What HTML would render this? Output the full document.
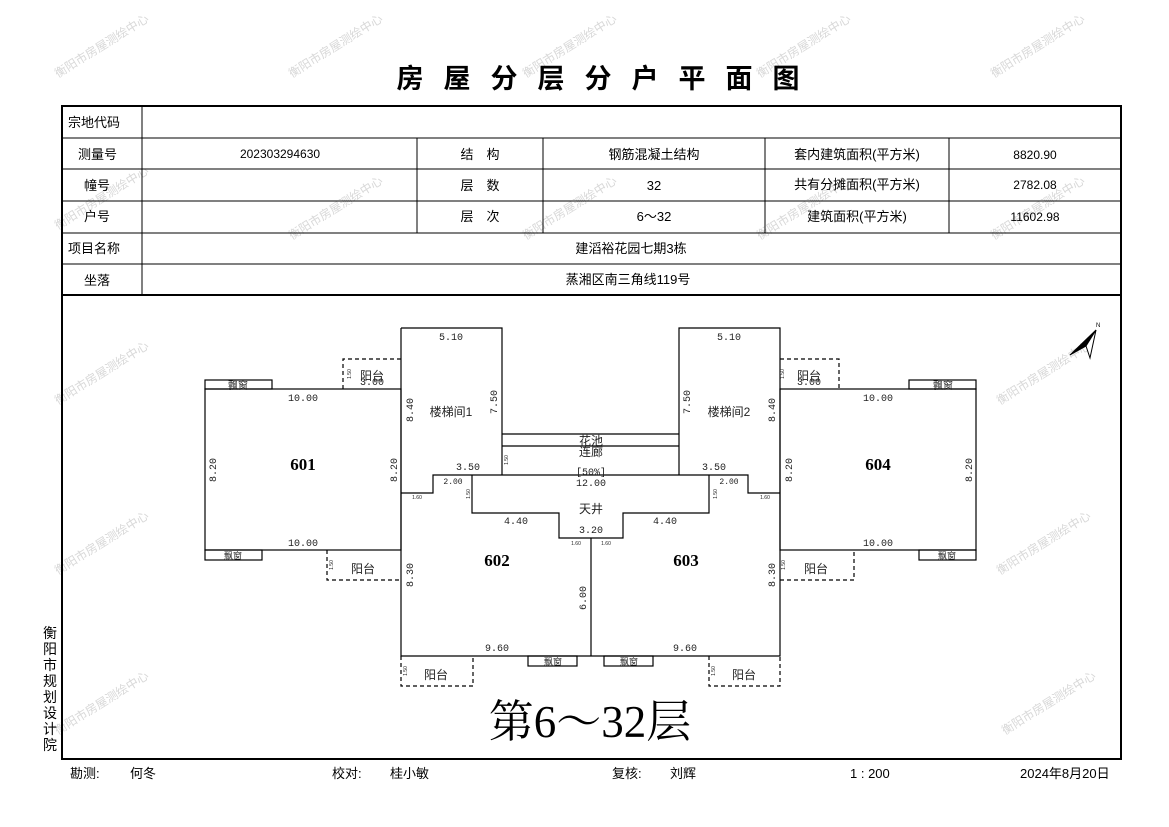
<!DOCTYPE html>
<html><head><meta charset="utf-8"><style>
html,body{margin:0;padding:0;background:#fff;}
svg{display:block;}
.t{font-family:"Liberation Sans","Noto Sans CJK SC",sans-serif;font-size:13px;fill:#000;}
.d{font-family:"Liberation Mono","Noto Sans CJK SC",monospace;font-size:10px;fill:#222;}
.s{font-family:"Liberation Sans",sans-serif;font-size:5px;fill:#222;}
.c{font-family:"Liberation Sans","Noto Sans CJK SC",sans-serif;font-size:12px;fill:#222;}
.n{font-family:"Liberation Serif","Noto Serif CJK SC",serif;font-size:17px;font-weight:bold;fill:#000;}
.w{font-family:"Liberation Sans","Noto Sans CJK SC",sans-serif;font-size:12px;fill:#d8d8d8;}
</style></head><body>
<svg width="1169" height="827" viewBox="0 0 1169 827" xmlns="http://www.w3.org/2000/svg">
<g class="w">
<text transform="translate(58,78) rotate(-32)">衡阳市房屋测绘中心</text>
<text transform="translate(292,78) rotate(-32)">衡阳市房屋测绘中心</text>
<text transform="translate(526,78) rotate(-32)">衡阳市房屋测绘中心</text>
<text transform="translate(760,78) rotate(-32)">衡阳市房屋测绘中心</text>
<text transform="translate(994,78) rotate(-32)">衡阳市房屋测绘中心</text>
<text transform="translate(58,230) rotate(-32)">衡阳市房屋测绘中心</text>
<text transform="translate(292,240) rotate(-32)">衡阳市房屋测绘中心</text>
<text transform="translate(526,240) rotate(-32)">衡阳市房屋测绘中心</text>
<text transform="translate(760,240) rotate(-32)">衡阳市房屋测绘中心</text>
<text transform="translate(994,240) rotate(-32)">衡阳市房屋测绘中心</text>
<text transform="translate(58,405) rotate(-32)">衡阳市房屋测绘中心</text>
<text transform="translate(1000,405) rotate(-32)">衡阳市房屋测绘中心</text>
<text transform="translate(58,575) rotate(-32)">衡阳市房屋测绘中心</text>
<text transform="translate(1000,575) rotate(-32)">衡阳市房屋测绘中心</text>
<text transform="translate(58,735) rotate(-32)">衡阳市房屋测绘中心</text>
<text transform="translate(1005,735) rotate(-32)">衡阳市房屋测绘中心</text>
</g>
<text x="608" y="88" text-anchor="middle" style="font-family:'Liberation Sans','Noto Sans CJK SC',sans-serif;font-size:27px;font-weight:bold;letter-spacing:20px">房屋分层分户平面图</text>
<rect x="62" y="106" width="1059" height="653" fill="none" stroke="#000" stroke-width="2"/>
<g stroke="#000" stroke-width="1">
<line x1="62" y1="138" x2="1121" y2="138"/>
<line x1="62" y1="169" x2="1121" y2="169"/>
<line x1="62" y1="201" x2="1121" y2="201"/>
<line x1="62" y1="233" x2="1121" y2="233"/>
<line x1="62" y1="264" x2="1121" y2="264"/>
<line x1="62" y1="295" x2="1121" y2="295" stroke-width="2"/>
<line x1="142" y1="106" x2="142" y2="295"/>
<line x1="417" y1="138" x2="417" y2="233"/>
<line x1="543" y1="138" x2="543" y2="233"/>
<line x1="765" y1="138" x2="765" y2="233"/>
<line x1="949" y1="138" x2="949" y2="233"/>
</g>
<g class="t">
<text x="68" y="127">宗地代码</text>
<text x="78" y="159">测量号</text>
<text x="84" y="190">幢号</text>
<text x="84" y="221">户号</text>
<text x="68" y="253">项目名称</text>
<text x="84" y="285">坐落</text>
<text x="280" y="158" text-anchor="middle" style="font-size:12px">202303294630</text>
<text x="480" y="159" text-anchor="middle">结　构</text>
<text x="480" y="190" text-anchor="middle">层　数</text>
<text x="480" y="221" text-anchor="middle">层　次</text>
<text x="654" y="159" text-anchor="middle">钢筋混凝土结构</text>
<text x="654" y="190" text-anchor="middle">32</text>
<text x="654" y="221" text-anchor="middle">6～32</text>
<text x="857" y="159" text-anchor="middle">套内建筑面积(平方米)</text>
<text x="857" y="189" text-anchor="middle">共有分摊面积(平方米)</text>
<text x="857" y="221" text-anchor="middle">建筑面积(平方米)</text>
<text x="1035" y="159" text-anchor="middle" style="font-size:12px">8820.90</text>
<text x="1035" y="189" text-anchor="middle" style="font-size:12px">2782.08</text>
<text x="1035" y="221" text-anchor="middle" style="font-size:12px">11602.98</text>
<text x="631" y="253" text-anchor="middle">建滔裕花园七期3栋</text>
<text x="628" y="284" text-anchor="middle">蒸湘区南三角线119号</text>
</g>
<g fill="none" stroke="#000" stroke-width="1.2">
<rect x="205" y="389" width="196" height="161"/>
<rect x="780" y="389" width="196" height="161"/>
<path d="M401,328 V656 H780 V328 H679 V475"/>
<path d="M401,328 H502 V475"/>
<path d="M502,434 H679 M502,446 H679"/>
<path d="M401,493 H433 V475 H748 V493 H780"/>
<path d="M472,475 V513 H559 V538 H623 V513 H709 V475"/>
<path d="M591,538 V656"/>
<rect x="205" y="380" width="67" height="9"/>
<rect x="205" y="550" width="57" height="10"/>
<rect x="909" y="380" width="67" height="9"/>
<rect x="919" y="550" width="57" height="10"/>
<rect x="528" y="656" width="49" height="10"/>
<rect x="604" y="656" width="49" height="10"/>
</g>
<g fill="none" stroke="#000" stroke-width="1.2" stroke-dasharray="4,3">
<path d="M343,389 V359 H401"/>
<path d="M327,550 V580 H401"/>
<path d="M780,359 H839 V389"/>
<path d="M780,580 H854 V550"/>
<path d="M401,656 V686 H473 V656"/>
<path d="M709,656 V686 H780 V656"/>
</g>
<g class="n">
<text x="303" y="470" text-anchor="middle">601</text>
<text x="497" y="566" text-anchor="middle">602</text>
<text x="686" y="566" text-anchor="middle">603</text>
<text x="878" y="470" text-anchor="middle">604</text>
</g>
<g class="d" text-anchor="middle">
<text x="303" y="401">10.00</text>
<text x="303" y="546">10.00</text>
<text x="878" y="401">10.00</text>
<text x="878" y="546">10.00</text>
<text x="451" y="340">5.10</text>
<text x="729" y="340">5.10</text>
<text x="468" y="470">3.50</text>
<text x="714" y="470">3.50</text>
<text x="453" y="484" style="font-size:8px">2.00</text>
<text x="729" y="484" style="font-size:8px">2.00</text>
<text x="516" y="524">4.40</text>
<text x="665" y="524">4.40</text>
<text x="591" y="533">3.20</text>
<text x="591" y="486">12.00</text>
<text x="591" y="475">[50%]</text>
<text x="497" y="651">9.60</text>
<text x="685" y="651">9.60</text>
<text x="372" y="385">3.00</text>
<text x="809" y="385">3.00</text>
<text transform="translate(216,470) rotate(-90)">8.20</text>
<text transform="translate(397,470) rotate(-90)">8.20</text>
<text transform="translate(792,470) rotate(-90)">8.20</text>
<text transform="translate(972,470) rotate(-90)">8.20</text>
<text transform="translate(413,410) rotate(-90)">8.40</text>
<text transform="translate(775,410) rotate(-90)">8.40</text>
<text transform="translate(497,402) rotate(-90)">7.50</text>
<text transform="translate(690,402) rotate(-90)">7.50</text>
<text transform="translate(413,575) rotate(-90)">8.30</text>
<text transform="translate(775,575) rotate(-90)">8.30</text>
<text transform="translate(586,598) rotate(-90)">6.00</text>
</g>
<g class="s" text-anchor="middle">
<text x="417" y="499">1.60</text>
<text x="765" y="499">1.60</text>
<text x="576" y="545">1.60</text>
<text x="606" y="545">1.60</text>
<text transform="translate(470,494) rotate(-90)">1.50</text>
<text transform="translate(717,494) rotate(-90)">1.50</text>
<text transform="translate(508,460) rotate(-90)">1.50</text>
<text transform="translate(351,374) rotate(-90)">1.50</text>
<text transform="translate(784,374) rotate(-90)">1.50</text>
<text transform="translate(333,565) rotate(-90)">1.50</text>
<text transform="translate(785,565) rotate(-90)">1.50</text>
<text transform="translate(407,671) rotate(-90)">1.50</text>
<text transform="translate(715,671) rotate(-90)">1.50</text>
</g>
<g class="c" text-anchor="middle">
<text x="451" y="416">楼梯间1</text>
<text x="729" y="416">楼梯间2</text>
<text x="591" y="445">花池</text>
<text x="591" y="456">连廊</text>
<text x="591" y="513">天井</text>
<text x="372" y="380">阳台</text>
<text x="809" y="380">阳台</text>
<text x="363" y="573">阳台</text>
<text x="816" y="573">阳台</text>
<text x="436" y="679">阳台</text>
<text x="744" y="679">阳台</text>
<text x="238" y="389" style="font-size:10px">飘窗</text>
<text x="943" y="389" style="font-size:10px">飘窗</text>
<text x="233" y="559" style="font-size:9px">飘窗</text>
<text x="947" y="559" style="font-size:9px">飘窗</text>
<text x="553" y="665" style="font-size:9px">飘窗</text>
<text x="629" y="665" style="font-size:9px">飘窗</text>
</g>
<g stroke="#000" stroke-width="1" fill="none">
<path d="M1096,330 L1070,355 L1086,346 Z" fill="#000"/>
<path d="M1096,330 L1086,346 L1090,358 Z" fill="#fff"/>
</g>
<text x="1096" y="327" style="font-family:'Liberation Sans';font-size:6px">N</text>
<text x="590" y="737" text-anchor="middle" style="font-family:'Liberation Serif','Noto Serif CJK SC',serif;font-size:45px;fill:#000">第6～32层</text>
<g class="t" style="font-size:14px" text-anchor="middle">
<text x="50" y="638">衡</text><text x="50" y="654">阳</text><text x="50" y="670">市</text><text x="50" y="686">规</text><text x="50" y="702">划</text><text x="50" y="718">设</text><text x="50" y="734">计</text><text x="50" y="750">院</text>
</g>
<g class="t">
<text x="70" y="778">勘测:</text><text x="130" y="778">何冬</text>
<text x="332" y="778">校对:</text><text x="390" y="778">桂小敏</text>
<text x="612" y="778">复核:</text><text x="670" y="778">刘辉</text>
<text x="850" y="778">1 : 200</text>
<text x="1020" y="778">2024年8月20日</text>
</g>
</svg>
</body></html>
